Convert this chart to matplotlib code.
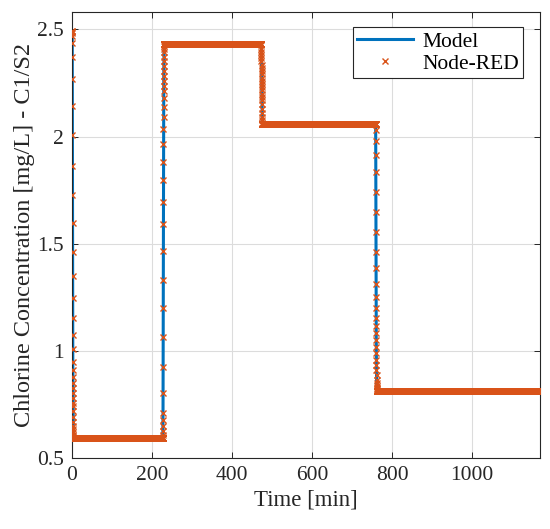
import numpy as np
import matplotlib.pyplot as plt

plt.rcParams['font.family'] = ['Liberation Serif', 'DejaVu Serif']

# sample period of the logged data [min]
dt = 0.1

# steady levels [mg/L] and the time each step change starts [min]
levels = [0.594, 2.43, 2.06, 0.815]
step_start = [0, 227, 473, 759]
t_end = 1170

# values read along each transition
trans_1 = [2.49, 2.49, 2.488, 2.485, 2.47, 2.434, 2.369, 2.268, 2.144, 2.005,
           1.862, 1.729, 1.597, 1.462, 1.349, 1.245, 1.155, 1.074, 1.008, 0.946,
           0.912, 0.880, 0.852, 0.826, 0.803, 0.780, 0.759, 0.741, 0.718, 0.694,
           0.67, 0.65, 0.635, 0.62, 0.61, 0.602]
trans_2 = [0.61, 0.625, 0.648, 0.679, 0.710, 0.803, 0.927, 1.064, 1.199, 1.333,
           1.466, 1.594, 1.694, 1.795, 1.880, 1.966, 2.036, 2.090, 2.140, 2.180,
           2.211, 2.237, 2.260, 2.284, 2.307, 2.330, 2.353, 2.372, 2.392, 2.408,
           2.42]
trans_3 = [2.425, 2.41, 2.395, 2.38, 2.365, 2.35, 2.335, 2.32, 2.305, 2.29,
           2.275, 2.26, 2.245, 2.23, 2.215, 2.20, 2.185, 2.17, 2.15, 2.13,
           2.11, 2.09, 2.075, 2.065]
trans_4 = [2.031, 1.981, 1.916, 1.834, 1.741, 1.648, 1.555, 1.462, 1.385, 1.31,
           1.25, 1.20, 1.155, 1.115, 1.082, 1.051, 1.020, 0.989, 0.958, 0.935,
           0.912, 0.888, 0.865, 0.85, 0.838, 0.828, 0.822, 0.818]
transitions = [trans_1, trans_2, trans_3, trans_4]

# build the logged series: transition samples followed by the steady level
t = []
c = []
ends = step_start[1:] + [t_end]
for k in range(4):
    tr = transitions[k]
    t0 = step_start[k]
    t += [t0 + i * dt for i in range(len(tr))]
    c += tr
    t_flat = np.arange(t0 + len(tr) * dt, ends[k], dt)
    t += list(t_flat)
    c += [levels[k]] * len(t_flat)
t = np.array(t)
c = np.array(c)

fig = plt.figure(figsize=(5.5, 5.29), dpi=100)
ax = fig.add_axes([0.131, 0.134, 0.851, 0.843])

ax.plot(t, c, color='#0072BD', lw=2.2, label='Model', zorder=2)
ax.plot(t, c, ls='none', marker='x', ms=5, mew=1.0, color='#D95319',
        label='Node-RED', zorder=3)

ax.set_xlim(0, 1170)
ax.set_ylim(0.5, 2.58)
ax.set_xticks([0, 200, 400, 600, 800, 1000])
ax.set_yticks([0.5, 1, 1.5, 2, 2.5])
ax.set_yticklabels(['0.5', '1', '1.5', '2', '2.5'])
ax.grid(True, color='#dcdcdc', lw=0.8)
ax.set_axisbelow(True)
ax.tick_params(direction='in', top=True, right=True, length=4, width=0.7,
               labelsize=15.5, colors='#262626', pad=6)
for s in ax.spines.values():
    s.set_color('#262626')
    s.set_linewidth(0.8)

ax.set_xlabel('Time [min]', fontsize=16.5, color='#262626', labelpad=3)
ax.set_ylabel('Chlorine Concentration [mg/L] - C1/S2', fontsize=17.5,
              color='#262626', labelpad=1)

leg = ax.legend(loc='upper right', bbox_to_anchor=(0.9637, 0.9664),
                fontsize=15.5, frameon=True, fancybox=False,
                edgecolor='#262626', framealpha=1, handlelength=2.6,
                borderpad=0.2, labelspacing=0.1, handletextpad=0.4,
                borderaxespad=0)
leg.get_frame().set_linewidth(0.8)

fig.savefig('out.png', dpi=100)
